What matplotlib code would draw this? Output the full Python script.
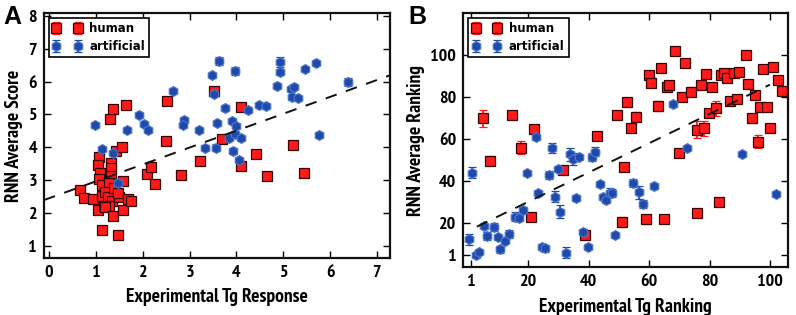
import numpy as np
import matplotlib
matplotlib.use("Agg")
from matplotlib import pyplot as plt
from matplotlib import font_manager

# ---- panel A: score vs response ----
a_hum_x = [0.65, 0.74, 0.94, 1.05, 1.07, 1.04, 1.09, 1.06, 1.13, 1.12, 1.17, 1.13, 1.31, 1.33, 1.31, 1.27,
           1.20, 1.26, 1.38, 1.34, 1.27, 1.19, 1.36, 1.47, 1.43, 1.55, 1.57, 1.50, 1.48, 1.57, 1.68, 1.75,
           1.29, 1.36, 1.64, 2.10, 2.17, 2.26, 2.49, 2.52, 2.82, 3.23, 3.51, 3.69, 4.10, 4.10, 4.41, 4.65,
           5.20, 5.45]
a_hum_y = [2.69, 2.45, 2.43, 2.09, 3.70, 3.46, 3.22, 3.02, 2.84, 2.53, 2.20, 1.48, 3.53, 3.37, 3.12, 2.90,
           2.65, 2.50, 2.76, 2.35, 2.20, 2.17, 1.91, 1.33, 3.89, 4.01, 2.96, 2.50, 2.62, 2.09, 2.43, 2.35,
           4.86, 5.16, 5.29, 3.19, 3.39, 2.88, 4.19, 5.42, 3.17, 3.58, 5.71, 4.24, 5.22, 3.42, 3.80, 3.13,
           4.07, 3.22]
a_hum_err = [0.04, 0.04, 0.04, 0.04, 0.06, 0.04, 0.04, 0.04, 0.04, 0.04, 0.04, 0.05, 0.06, 0.04, 0.04, 0.04,
             0.04, 0.04, 0.04, 0.04, 0.04, 0.04, 0.04, 0.04, 0.04, 0.04, 0.04, 0.04, 0.04, 0.04, 0.06, 0.06,
             0.04, 0.04, 0.06, 0.04, 0.04, 0.04, 0.05, 0.06, 0.04, 0.04, 0.04, 0.04, 0.04, 0.04, 0.06, 0.04,
             0.08, 0.09]
a_art_x = [0.97, 1.12, 1.36, 1.48, 1.67, 1.91, 2.03, 2.12, 2.64, 2.88, 2.86, 3.20, 3.32, 3.47, 3.56, 3.59,
           3.62, 3.52, 3.76, 3.83, 3.90, 3.93, 3.96, 3.96, 4.00, 4.06, 4.10, 4.24, 4.49, 4.63, 4.86, 4.94,
           4.94, 5.16, 5.19, 5.23, 5.31, 5.47, 5.69, 5.77, 6.39]
a_art_y = [4.67, 3.95, 3.83, 2.92, 4.54, 4.98, 4.72, 4.52, 5.71, 4.84, 4.68, 4.53, 3.99, 6.19, 3.99, 4.75,
           6.63, 5.62, 5.20, 4.29, 4.81, 3.89, 4.40, 6.32, 4.65, 3.60, 4.29, 5.12, 5.29, 5.27, 5.88, 6.60,
           6.29, 5.78, 5.52, 5.85, 5.49, 6.37, 6.57, 4.38, 5.98]
a_art_err = [0.04, 0.04, 0.06, 0.04, 0.04, 0.06, 0.06, 0.06, 0.06, 0.08, 0.04, 0.04, 0.08, 0.05, 0.10, 0.04,
             0.12, 0.04, 0.10, 0.04, 0.04, 0.08, 0.04, 0.13, 0.04, 0.06, 0.04, 0.06, 0.04, 0.04, 0.08, 0.15,
             0.08, 0.06, 0.08, 0.06, 0.06, 0.04, 0.06, 0.10, 0.12]
a_fit_x = [-0.11, 7.3]
a_fit_b = 2.45
a_fit_m = 0.514
a_xticks = [0, 1, 2, 3, 4, 5, 6, 7]
a_yticks = [1, 2, 3, 4, 5, 6, 7, 8]

# ---- panel B: ranking vs ranking ----
b_hum_x = [4.8, 7.4, 14.4, 17.4, 20.8, 21.7, 31.3, 38.6, 42.6, 49.4, 50.9, 51.7, 52.8, 53.9, 55.6, 58.9,
           59.8, 60.6, 62.8, 63.9, 65.0, 65.9, 66.7, 68.6, 69.8, 70.9, 71.9, 73.7, 75.9, 75.9, 77.0, 78.0,
           78.7, 79.8, 80.9, 82.0, 83.1, 83.9, 84.7, 85.9, 86.9, 88.0, 89.1, 89.9, 92.0, 92.8, 93.9, 95.0,
           96.1, 96.7, 97.8, 98.9, 100.0, 101.1, 102.8, 103.9]
b_hum_y = [69.9, 49.8, 71.5, 56.0, 23.2, 64.7, 45.4, 14.5, 61.5, 71.5, 20.8, 46.9, 77.8, 65.2, 70.7, 21.9,
           90.5, 86.9, 75.8, 93.7, 21.9, 85.0, 85.8, 102.1, 53.6, 79.9, 96.1, 82.6, 24.8, 64.4, 85.8, 65.2,
           91.0, 72.6, 84.7, 74.7, 30.3, 90.5, 91.6, 89.3, 78.3, 91.6, 79.0, 92.1, 100.0, 86.2, 69.9, 81.0,
           58.8, 75.2, 93.2, 75.2, 65.2, 94.5, 88.1, 83.1]
b_hum_err = [4.0, 2.0, 1.0, 3.0, 1.0, 1.0, 1.0, 1.0, 1.0, 1.5, 2.0, 2.0, 2.0, 1.0, 2.0, 2.0,
             2.0, 2.0, 2.5, 2.0, 1.5, 1.5, 2.0, 1.0, 1.5, 1.5, 1.5, 2.0, 2.0, 4.0, 2.0, 3.5,
             1.5, 1.5, 1.5, 3.5, 1.5, 2.0, 1.5, 1.5, 1.5, 1.5, 1.5, 1.5, 1.5, 1.5, 2.0, 1.5,
             3.0, 2.0, 1.5, 2.0, 2.0, 1.5, 1.5, 2.0]
b_art_x = [0.33, 1.3, 2.6, 3.7, 5.3, 6.4, 8.7, 9.8, 10.7, 12.2, 13.6, 15.6, 16.7, 18.3, 19.4, 22.6,
           23.3, 24.4, 25.6, 26.7, 27.8, 28.7, 29.8, 30.6, 32.4, 33.7, 34.8, 35.6, 36.7, 38.1, 39.7, 40.9,
           41.9, 43.7, 44.7, 45.8, 46.9, 47.8, 48.7, 54.7, 56.7, 57.8, 61.7, 67.8, 72.4, 90.6, 102.0]
b_art_y = [12.4, 44.1, 4.9, 6.2, 18.7, 14.0, 18.4, 13.3, 7.6, 11.8, 14.9, 23.2, 22.4, 26.3, 43.8, 60.9,
           34.6, 8.9, 8.1, 43.0, 55.7, 32.7, 45.7, 25.5, 6.1, 52.8, 50.6, 31.9, 51.7, 16.0, 8.6, 51.4,
           54.1, 38.5, 32.4, 31.1, 34.6, 34.3, 14.5, 39.3, 34.7, 29.2, 37.7, 76.7, 55.7, 53.0, 33.9]
b_art_err = [2.5, 2.5, 1.0, 1.0, 1.0, 2.0, 2.0, 1.0, 1.5, 1.0, 2.0, 2.0, 1.5, 1.5, 1.0, 1.5,
             1.0, 1.5, 1.5, 2.0, 2.5, 2.5, 1.0, 3.0, 2.5, 3.0, 3.0, 1.5, 1.0, 1.5, 1.0, 2.0,
             2.0, 1.0, 1.5, 1.5, 2.0, 2.0, 1.0, 2.0, 3.0, 2.0, 1.5, 1.5, 1.0, 1.0, 1.0]
b_fit_x = [2.9, 100.0]
b_fit_b = 16.4
b_fit_m = 0.695
b_xticks = [1, 20, 40, 60, 80, 100]
b_yticks = [5, 20, 40, 60, 80, 100]
b_yticklabels = ["1", "20", "40", "60", "80", "100"]


def find_narrow_bold():
    # prefer Arial-like narrow, then any condensed bold sans
    found = []
    for f in font_manager.fontManager.ttflist:
        fn = f.fname.lower()
        tag = (f.name + " " + fn).lower()
        if ("narrow" in tag or "condensed" in tag) and "bold" in fn and "italic" not in fn \
                and "oblique" not in fn and "mono" not in tag and "serif" not in tag.replace("sans", ""):
            found.append(f)
    found.sort(key=lambda f: 0 if "narrow" in (f.name + f.fname).lower() else 1)
    if found:
        return font_manager.FontProperties(fname=found[0].fname), "narrow" in (found[0].name + found[0].fname).lower()
    return None, False


NARROW, is_arial_narrow = find_narrow_bold()
if NARROW is None:
    NARROW = font_manager.FontProperties(family="Liberation Sans", weight="bold")
    TICK_SIZE, LABEL_SIZE = 11, 12
elif is_arial_narrow:
    TICK_SIZE, LABEL_SIZE = 13, 14
else:
    TICK_SIZE, LABEL_SIZE = 11.5, 12


def fp(size):
    p = NARROW.copy()
    p.set_size(size)
    return p


RED = "#ff1a1a"
RED_EDGE = "#3a0000"
BLUE = "#1f4aa8"
BLUE_EDGE = "#4a72d0"


def draw(ax, hx, hy, he, ax_x, ay, ae, fx, fb, fm, ms):
    ax.errorbar(hx, hy, yerr=he, fmt="s", ms=ms, mfc=RED, mec=RED_EDGE, mew=0.9,
                ecolor=RED, elinewidth=1.3, capsize=2.8, capthick=1.3, label="human", zorder=3)
    ax.errorbar(ax_x, ay, yerr=ae, fmt="h", ms=ms, mfc=BLUE, mec=BLUE_EDGE, mew=0.9,
                ecolor=BLUE, elinewidth=1.3, capsize=2.8, capthick=1.3, label="artificial", zorder=3)
    fx = np.array(fx)
    ax.plot(fx, fb + fm * fx, ls=(0, (6, 5)), color="#111111", lw=1.4, zorder=4)
    for s in ax.spines.values():
        s.set_linewidth(1.6)
        s.set_color("#111111")
    ax.tick_params(direction="in", length=5, width=1.0, top=True, right=True, pad=5)
    for lab in ax.get_xticklabels() + ax.get_yticklabels():
        lab.set_fontproperties(fp(TICK_SIZE))
    leg = ax.legend(loc="upper left", numpoints=2, prop={"family": "DejaVu Sans", "weight": "bold", "size": 8.5},
                    fancybox=False, edgecolor="black", framealpha=1, borderpad=0.35,
                    handlelength=2.4, handletextpad=0.7, labelspacing=0.45, borderaxespad=0.4)
    leg.get_frame().set_linewidth(1.2)


fig = plt.figure(figsize=(7.96, 3.15), dpi=100)
ax1 = fig.add_axes([0.0553, 0.181, 0.4347, 0.778])
ax2 = fig.add_axes([0.582, 0.152, 0.408, 0.807])

ax1.set_xlim(-0.11, 7.28)
ax1.set_ylim(0.63, 8.09)
ax1.set_xticks(a_xticks)
ax1.set_yticks(a_yticks)
draw(ax1, a_hum_x, a_hum_y, a_hum_err, a_art_x, a_art_y, a_art_err, a_fit_x, a_fit_b, a_fit_m, 7)
ax1.set_xlabel("Experimental Tg Response", fontproperties=fp(LABEL_SIZE), labelpad=5)
ax1.set_ylabel("RNN Average Score", fontproperties=fp(LABEL_SIZE), labelpad=4)

ax2.set_xlim(-1.6, 106)
ax2.set_ylim(-0.8, 120)
ax2.set_xticks(b_xticks)
ax2.set_yticks(b_yticks)
ax2.set_yticklabels(b_yticklabels)
draw(ax2, b_hum_x, b_hum_y, b_hum_err, b_art_x, b_art_y, b_art_err, b_fit_x, b_fit_b, b_fit_m, 7)
ax2.set_xlabel("Experimental Tg Ranking", fontproperties=fp(LABEL_SIZE), labelpad=6)
ax2.set_ylabel("RNN Average Ranking", fontproperties=fp(LABEL_SIZE), labelpad=4)

fig.text(0.004, 0.985, "A", fontsize=18, fontweight="bold", fontfamily="Liberation Sans", va="top")
fig.text(0.513, 0.985, "B", fontsize=18, fontweight="bold", fontfamily="Liberation Sans", va="top")

fig.savefig("out.png", dpi=100)
